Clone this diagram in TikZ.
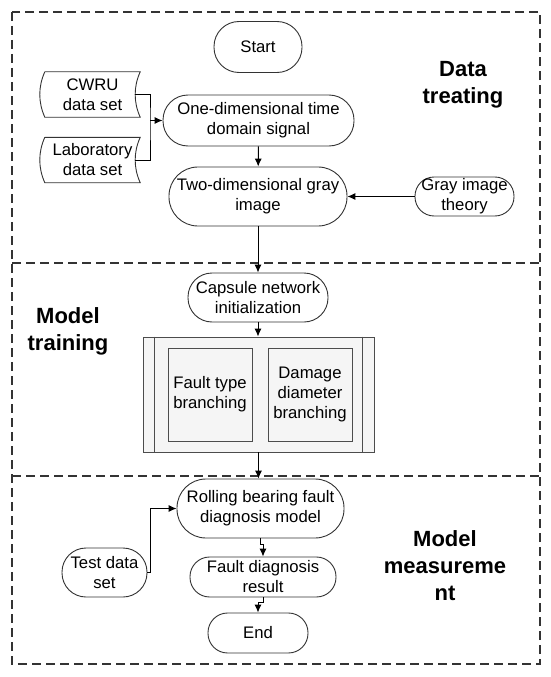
\documentclass[tikz,border=0pt]{standalone}
\usepackage{fontspec}
\setmainfont{Liberation Sans}
\usetikzlibrary{arrows.meta}

\begin{document}
\begin{tikzpicture}[x=1pt,y=1pt,
  every node/.style={font=\fontsize{16.7}{20}\selectfont},
  pill/.style 2 args={draw=black!80, line width=0.9pt, rectangle, rounded corners=0.49*#2,
    minimum width=#1, minimum height=#2, inner sep=0pt, align=center},
  sub/.style 2 args={draw=black!70, line width=0.9pt, fill=black!4,
    minimum width=#1, minimum height=#2, inner sep=0pt, align=center},
  store/.style={minimum width=95pt, minimum height=45pt, inner sep=0pt, align=center},
  title/.style={font=\fontsize{22}{27}\selectfont\bfseries, align=center},
  line/.style={line width=1pt},
  arr/.style={line, -{Latex[length=8pt,width=7pt]}},
  zone/.style={draw=black!80, line width=1.2pt, dash pattern=on 9pt off 5pt}]
\path[fill=white] (0,0) rectangle (550,-677);

% three stages
\draw[zone] (12,-12) rectangle (540,-664);
\draw[zone] (12,-263) -- (540,-263);
\draw[zone] (12,-476) -- (540,-476);

\node[title] (treat) at (463,-85) {Data\\treating};
\node[title] (train) at (68,-331) {Model\\training};
\node[title] (meas) at (445,-566) {Model\\measureme\\nt};

% data treating
\node[pill={88pt}{51pt}] (start) at (258,-47) {Start};
\node[pill={191pt}{51pt}] (onedim) at (258.5,-120.5) {One-dimensional time\\domain signal};
\node[pill={178pt}{59pt}] (twodim) at (258,-196.5) {Two-dimensional gray\\image};
\node[pill={99pt}{39pt}] (theory) at (464.5,-196.5) {Gray image\\theory};
\node[store] (cwru) at (92.5,-94.5) {CWRU\\data set};
\node[store] (lab) at (92.5,-160) {Laboratory\\data set};
\foreach \n in {cwru,lab}
  \draw[draw=black!80, line width=0.9pt] (\n.north west) -- (\n.north east)
    .. controls ([xshift=-6.7pt,yshift=-15pt]\n.north east) and ([xshift=-6.7pt,yshift=15pt]\n.south east) .. (\n.south east)
    -- (\n.south west)
    .. controls ([xshift=-6.7pt,yshift=15pt]\n.south west) and ([xshift=-6.7pt,yshift=-15pt]\n.north west) .. (\n.north west);

% model training
\node[pill={140pt}{49pt}] (capsule) at (258,-297.5) {Capsule network\\initialization};
\node[sub={231pt}{115pt}] (branch) at (258.5,-394.5) {};
\draw[draw=black!70, line width=0.9pt] ([xshift=12pt]branch.north west) -- ([xshift=12pt]branch.south west);
\draw[draw=black!70, line width=0.9pt] ([xshift=-12pt]branch.north east) -- ([xshift=-12pt]branch.south east);
\node[sub={84pt}{93pt}] (fault) at (210,-394.5) {Fault type\\branching};
\node[sub={84pt}{93pt}] (damage) at (310,-394.5) {Damage\\diameter\\branching};

% model measurement
\node[pill={167pt}{59pt}] (rolling) at (260.5,-508.5) {Rolling bearing fault\\diagnosis model};
\node[pill={85pt}{49pt}] (test) at (104.5,-572.5) {Test data\\set};
\node[pill={146pt}{40pt}] (result) at (263,-577) {Fault diagnosis\\result};
\node[pill={100pt}{40pt}] (end) at (258,-633) {End};

% connectors
\coordinate (join) at (150,-120.5);
\draw[line] ([xshift=-5pt]cwru.east) -| (join) |- ([xshift=-5pt]lab.east);
\draw[arr] (join) -- (onedim.west);
\draw[arr] (onedim) -- (twodim);
\draw[arr] (theory) -- (twodim);
\draw[arr] (twodim) -- (capsule);
\draw[arr] (capsule.south) -- (capsule.south |- branch.north);
\draw[arr] (branch.south) -- (branch.south |- rolling.north);
\draw[arr] (test.east) -- ++(3,0) |- (rolling.west);
\draw[arr] (rolling.south) -- ++(0,-6) -| (result.north);
\draw[arr] (result.south) -- ++(0,-5) -| (end.north);
\end{tikzpicture}
\end{document}
